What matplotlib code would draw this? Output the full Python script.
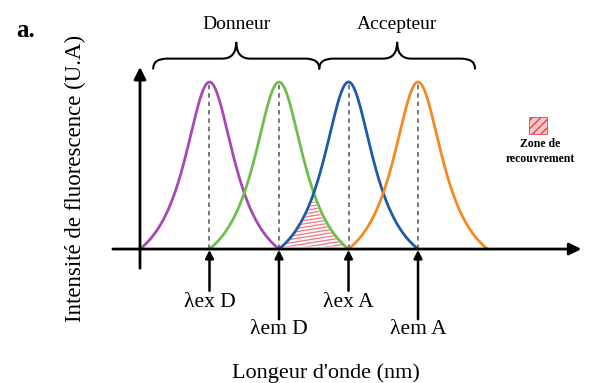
import numpy as np
import matplotlib
matplotlib.use("Agg")
from matplotlib import pyplot as plt
from matplotlib.path import Path
from matplotlib.patches import PathPatch, Rectangle

# spectra (arbitrary units)
peak_centres = [1.0, 2.0, 3.0, 4.0]
peak_halfwidths = [1.0, 1.0, 1.0, 1.0]
peak_heights = [1.0, 1.0, 1.0, 1.0]
peak_widths = [0.45, 0.45, 0.45, 0.45]
peak_colors = ["#a34ab4", "#6cbf4c", "#1d5ba8", "#f48a1f"]

marker_labels = ["λex D", "λem D", "λex A", "λem A"]
marker_levels = ["low", "high", "low", "high"]

brace_labels = ["Donneur", "Accepteur"]
brace_spans = [(0.19, 2.58), (2.58, 4.82)]

plt.rcParams['font.family'] = ['Liberation Serif', 'DejaVu Serif']

fig = plt.figure(figsize=(5.94, 3.83), dpi=100)
ax = fig.add_axes([0, 0, 1, 1])
ax.set_xlim(-2.014, 6.532)
ax.set_ylim(-0.802, 1.491)
ax.axis('off')


def spectrum(c, hw, h, w):
	x = np.linspace(c - hw, c + hw, 300)
	L = 1.0 / (1.0 + ((x - c) / w) ** 2)
	c0 = 1.0 / (1.0 + (hw / w) ** 2)
	return x, h * (L - c0) / (1 - c0)


curves = []
for c, hw, h, w, col in zip(peak_centres, peak_halfwidths, peak_heights, peak_widths, peak_colors):
	x, y = spectrum(c, hw, h, w)
	curves.append((x, y))
	ax.plot(x, y, color=col, lw=2.0, solid_capstyle='round', zorder=3)
	ax.plot([c, c], [0, h], color="#555555", lw=1.1, ls=(0, (3, 2.5)), zorder=2)

# overlap zone between donor emission and acceptor excitation
xg, yg = curves[1]
xb, yb = curves[2]
xo = np.linspace(peak_centres[2] - peak_halfwidths[2], peak_centres[1] + peak_halfwidths[1], 200)
yo = np.minimum(np.interp(xo, xg, yg), np.interp(xo, xb, yb)) * 0.9
zone = ax.fill_between(xo, 0.015, yo, facecolor='none', edgecolor='none', zorder=1)
clip = zone.get_paths()[0]
for k in np.arange(-0.2, 0.7, 0.02):
	ln, = ax.plot([1.9, 3.1], [k - 0.04, k + 0.04], color="#ee5560", lw=0.9, alpha=0.8, zorder=1)
	ln.set_clip_path(clip, ax.transData)

# axes with arrows
ax.annotate("", xy=(6.35, 0), xytext=(-0.39, 0),
	arrowprops=dict(arrowstyle='-|>', color='black', lw=2.0, mutation_scale=18, shrinkA=0, shrinkB=0), zorder=4)
ax.annotate("", xy=(0, 1.09), xytext=(0, -0.115),
	arrowprops=dict(arrowstyle='-|>', color='black', lw=2.0, mutation_scale=18, shrinkA=0, shrinkB=0), zorder=4)

# wavelength markers
for c, lab, lev in zip(peak_centres, marker_labels, marker_levels):
	if lev == "low":
		y0, yt = -0.25, -0.32
	else:
		y0, yt = -0.42, -0.48
	ax.annotate("", xy=(c, -0.005), xytext=(c, y0),
		arrowprops=dict(arrowstyle='-|>', color='black', lw=1.8, mutation_scale=12, shrinkA=0, shrinkB=0), zorder=4)
	ax.text(c, yt, lab, ha='center', va='center', fontsize=15.5)


def brace(x0, x1, ytip, yflat, yend, r):
	xm = (x0 + x1) / 2
	verts = [(x0, yend), (x0, yflat), (x0 + r, yflat),
		(xm - r, yflat), (xm, yflat), (xm, ytip),
		(xm, yflat), (xm + r, yflat),
		(x1 - r, yflat), (x1, yflat), (x1, yend)]
	codes = [Path.MOVETO, Path.CURVE3, Path.CURVE3,
		Path.LINETO, Path.CURVE3, Path.CURVE3,
		Path.CURVE3, Path.CURVE3,
		Path.LINETO, Path.CURVE3, Path.CURVE3]
	return PathPatch(Path(verts, codes), fill=False, lw=1.5, color='black', capstyle='round')


for (x0, x1), lab in zip(brace_spans, brace_labels):
	ax.add_patch(brace(x0, x1, 1.24, 1.14, 1.08, 0.2))
	ax.text((x0 + x1) / 2, 1.345, lab, ha='center', va='center', fontsize=14)

# legend
ax.add_patch(Rectangle((5.6, 0.69), 0.26, 0.10, facecolor='#f6c6c8', edgecolor='#e8434b',
	hatch='////', lw=0.6))
ax.text(5.76, 0.585, "Zone de\nrecouvrement", ha='center', va='center', fontsize=8.5,
	fontweight='bold', linespacing=1.3)

ax.text(-0.935, 0.42, "Intensité de fluorescence (U.A)", rotation=90, ha='center', va='center', fontsize=16.5)
ax.text(2.68, -0.745, "Longeur d'onde (nm)", ha='center', va='center', fontsize=16)
ax.text(-1.65, 1.31, "a.", ha='center', va='center', fontsize=18, fontweight='bold')

fig.savefig("out.png", dpi=100)
